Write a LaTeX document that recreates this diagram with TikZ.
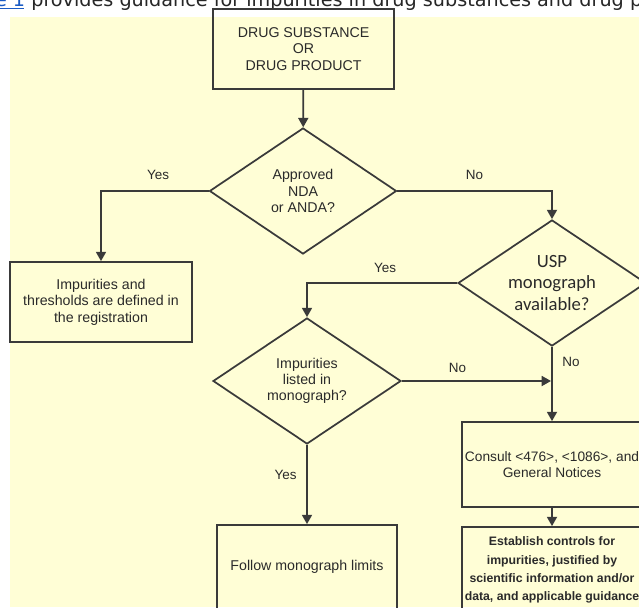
\documentclass[tikz,border=0pt]{standalone}
\usepackage{fontspec}
\setmainfont{Liberation Sans}
\newfontfamily\calib{Carlito}
\newfontfamily\dejavu{DejaVu Sans}
\usetikzlibrary{shapes.geometric,arrows.meta}
\definecolor{bgyellow}{HTML}{FFFED6}
\definecolor{inkline}{HTML}{3A3A3A}
\definecolor{inktext}{HTML}{2A2A2A}
\definecolor{linkblue}{HTML}{1A5BC4}
\tikzset{
  flowbox/.style={draw=inkline, line width=1.3pt, rectangle, inner sep=0pt, align=center,
    text=inktext, font={\fontsize{10.65}{12.4}\selectfont}},
  decision/.style={draw=inkline, line width=1.3pt, diamond, shape aspect=1.5, inner sep=0pt,
    minimum width=140.5pt, minimum height=94.5pt, align=center, text=inktext,
    font={\fontsize{10.65}{12.1}\selectfont}},
  branchlabel/.style={text=inktext, inner sep=0pt, font={\fontsize{10.1}{12}\selectfont}},
  flowarrow/.style={draw=inkline, line width=1.3pt, -{Triangle[length=7pt,width=7.5pt]}},
}
\begin{document}
\begin{tikzpicture}[x=0.75pt,y=-0.75pt]
\clip (0,0) rectangle (639,607);
\fill[white] (0,0) rectangle (639,607);
\fill[bgyellow] (10,17) rectangle (639,607);
% clipped caption line at the very top
\node[anchor=base west, inner sep=0pt, font={\dejavu\fontsize{14.4}{16}\selectfont}, text=black!85] (caption) at (-52,6)
  {\textcolor{linkblue}{Figure 1} provides guidance for impurities in drug substances and drug products};
\coordinate (ulstart) at (0,8.5);
\coordinate (ulend) at (24,8.5);
\draw[linkblue, line width=1pt] (ulstart) -- (ulend);

\node[flowbox, minimum width=135.75pt, minimum height=60pt] (start) at (303.5,49)
  {DRUG SUBSTANCE\\OR\\DRUG PRODUCT};
\node[decision, minimum width=140.25pt] (nda) at (303,191) {Approved\\NDA\\or ANDA?};
\node[flowbox, minimum width=136.5pt, minimum height=60pt] (reg) at (101,302)
  {Impurities and\\thresholds are defined in\\the registration};
\node[decision, minimum width=141pt, font={\calib\fontsize{14}{16.1}\selectfont}] (usp) at (552,283)
  {USP\\monograph\\available?};
\node[decision, minimum width=141pt] (listed) at (307,381) {Impurities\\listed in\\monograph?};
\node[flowbox, minimum width=135pt, minimum height=63pt] (follow) at (307,567)
  {Follow monograph limits};
\node[flowbox, minimum width=135pt, minimum height=63.75pt, font={\fontsize{10.3}{12.4}\selectfont}] (consult) at (552,464.5)
  {Consult <476>, <1086>, and\\General Notices};
\node[flowbox, minimum width=135pt, minimum height=64.5pt, font={\bfseries\fontsize{9.2}{13.6}\selectfont}] (establish) at (552,570)
  {Establish controls for\\impurities, justified by\\scientific information and/or\\data, and applicable guidance};

\coordinate (join) at (551,381);

\draw[flowarrow] (start) -- (nda);
\draw[flowarrow] (nda.west) -| (reg.north);
\draw[flowarrow] (nda.east) -| (usp.north);
\draw[flowarrow] (usp.west) -| (listed.north);
\draw[flowarrow] (usp.south) -- (consult.north);
\draw[flowarrow] (listed.east) -- (join);
\draw[flowarrow] (listed.south) -- (follow.north);
\draw[flowarrow] (consult.south) -- (establish.north);

\node[branchlabel] (yes1) at (158,175) {Yes};
\node[branchlabel] (no1) at (474.5,175) {No};
\node[branchlabel] (yes2) at (385,268) {Yes};
\node[branchlabel] (no2) at (457.5,368) {No};
\node[branchlabel] (no3) at (571,362) {No};
\node[branchlabel] (yes3) at (285.5,475) {Yes};
\end{tikzpicture}
\end{document}
